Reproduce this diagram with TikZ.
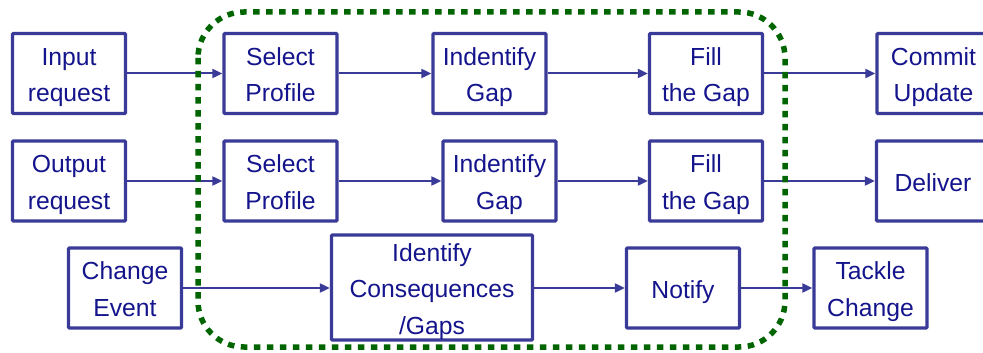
\documentclass[tikz,border=0pt]{standalone}
\usepackage{fontspec}
\setmainfont{Liberation Sans}
\usetikzlibrary{arrows.meta}

\definecolor{boxblue}{RGB}{58,58,152}
\definecolor{textblue}{RGB}{20,20,140}
\definecolor{framegreen}{RGB}{0,100,0}

% invisible struts: fixed ascent of the first line, fixed descent of the last
\newcommand\firstln{\rule{0pt}{26pt}}
\newcommand\lastln{\rule[-6pt]{0pt}{6pt}}

\tikzset{
  stepbox/.style={draw=boxblue, line width=3.3pt, rounded corners=1pt,
    text=textblue, align=center, inner sep=0pt,
    minimum width=113pt, minimum height=80pt,
    font=\fontsize{24.7}{36.5}\selectfont},
  flow/.style={draw=boxblue, line width=2pt,
    -{Triangle[length=10pt,width=9pt]}},
  scopeframe/.style={draw=framegreen, line width=5.5pt,
    dash pattern=on 6.5pt off 6.5pt, rounded corners=46pt}
}

\begin{document}
\begin{tikzpicture}[x=1pt, y=-1pt]
  \useasboundingbox (0,0) rectangle (983,353);

  % first row: input handling
  \node[stepbox] (inreq)  at (69,73.5)    {\firstln Input\\request\lastln};
  \node[stepbox] (sel1)   at (280.5,73.5) {\firstln Select\\Profile\lastln};
  \node[stepbox] (gap1)   at (489.5,73.5) {\firstln Indentify\\Gap\lastln};
  \node[stepbox] (fill1)  at (706,73.5)   {\firstln Fill\\the Gap\lastln};
  \node[stepbox] (commit) at (933.5,73.5) {\firstln Commit\\Update\lastln};

  % second row: output handling
  \node[stepbox] (outreq)  at (69,181)    {\firstln Output\\request\lastln};
  \node[stepbox] (sel2)    at (280.5,181) {\firstln Select\\Profile\lastln};
  \node[stepbox] (gap2)    at (499.5,181) {\firstln Indentify\\Gap\lastln};
  \node[stepbox] (fill2)   at (706,181)   {\firstln Fill\\the Gap\lastln};
  \node[stepbox] (deliver) at (933,181)   {\firstln Deliver\lastln};

  % third row: change handling
  \node[stepbox] (change) at (125,288) {\firstln Change\\Event\lastln};
  \node[stepbox, minimum width=201pt, minimum height=104pt]
                 (conseq) at (432,287.5)
                 {\firstln Identify\\Consequences\\/Gaps\lastln};
  \node[stepbox] (notify) at (683,288)   {\firstln Notify\lastln};
  \node[stepbox] (tackle) at (870.5,288) {\firstln Tackle\\Change\lastln};

  % connectors
  \draw[flow] (inreq) -- (sel1);
  \draw[flow] (sel1) -- (gap1);
  \draw[flow] (gap1) -- (fill1);
  \draw[flow] (fill1) -- (commit);

  \draw[flow] (outreq) -- (sel2);
  \draw[flow] (sel2) -- (gap2);
  \draw[flow] (gap2) -- (fill2);
  \draw[flow] (fill2) -- (deliver);

  \draw[flow] (change.east) -- (change.east -| conseq.west);
  \draw[flow] (conseq.east |- notify.west) -- (notify.west);
  \draw[flow] (notify) -- (tackle);

  % dotted frame around the core steps
  \draw[scopeframe] (198,12) rectangle (785,347);
\end{tikzpicture}
\end{document}
